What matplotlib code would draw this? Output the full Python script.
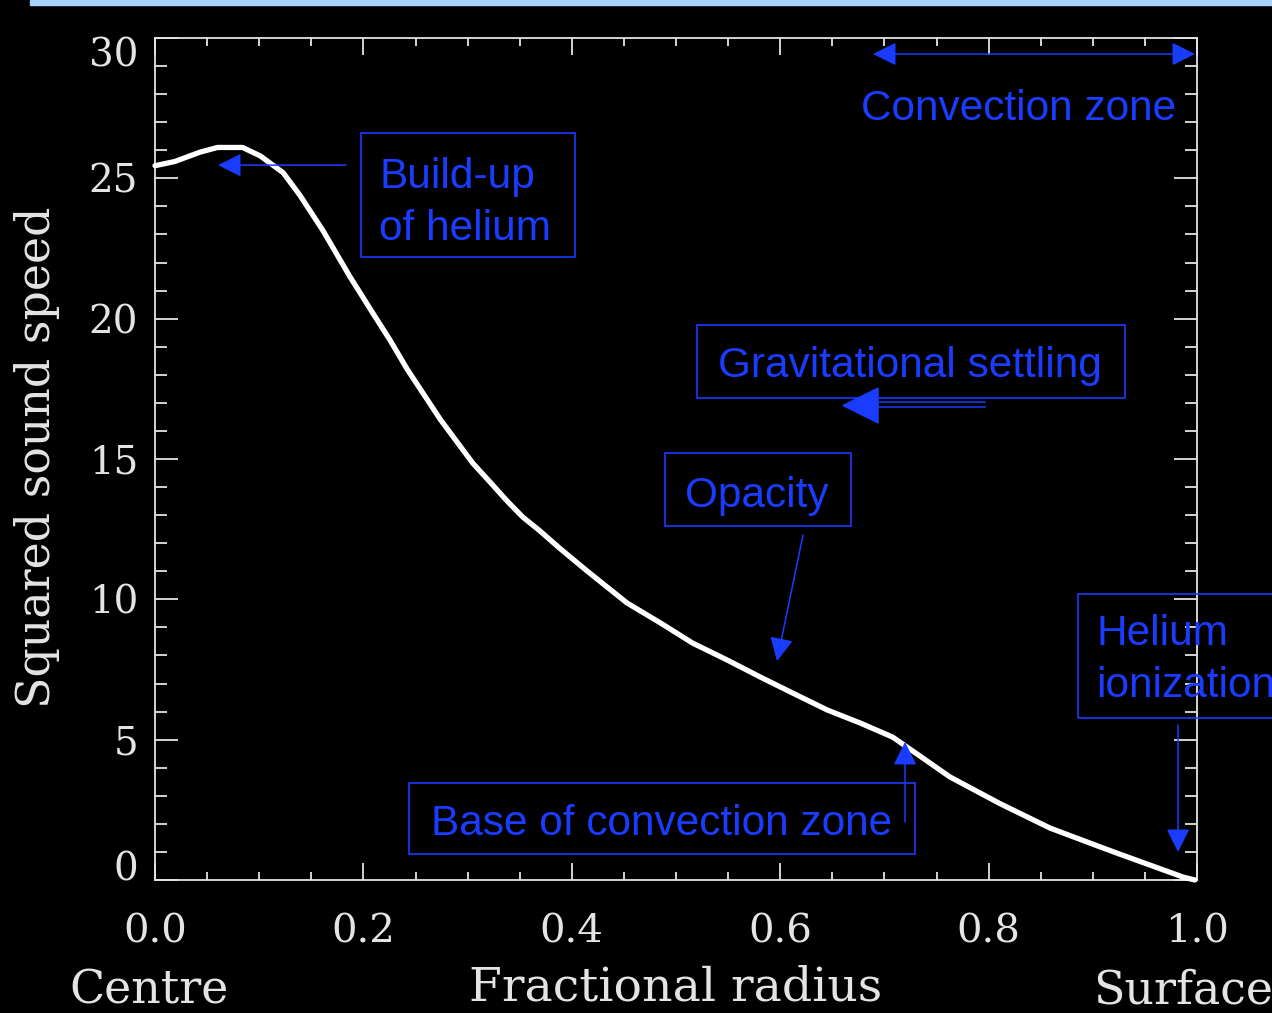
import matplotlib
matplotlib.use("Agg")
import numpy as np
import matplotlib.pyplot as plt
from matplotlib.patches import Rectangle, Polygon
from matplotlib.transforms import offset_copy

# ------------------- DATA -------------------
radius = [0.0, 0.019, 0.043, 0.060, 0.084, 0.101, 0.123, 0.139, 0.161, 0.187,
          0.209, 0.2255, 0.242, 0.274, 0.290, 0.305, 0.3215, 0.338, 0.353, 0.369,
          0.389, 0.415, 0.453, 0.485, 0.516, 0.549, 0.581, 0.612, 0.645, 0.677,
          0.708, 0.763, 0.811, 0.859, 0.907, 0.923, 0.955, 0.987, 0.998]
sound_speed_sq = [25.45, 25.6, 25.93, 26.1, 26.1, 25.8, 25.2, 24.4, 23.15, 21.5,
                  20.2, 19.24, 18.2, 16.4, 15.6, 14.85, 14.18, 13.5, 12.93, 12.45,
                  11.8, 11.0, 9.87, 9.16, 8.44, 7.84, 7.23, 6.66, 6.06, 5.59,
                  5.09, 3.67, 2.72, 1.85, 1.18, 0.96, 0.53, 0.1, 0.0]

x_ticks = [0.0, 0.2, 0.4, 0.6, 0.8, 1.0]
x_tick_labels = ["0.0", "0.2", "0.4", "0.6", "0.8", "1.0"]
y_ticks = [0, 5, 10, 15, 20, 25, 30]
y_tick_labels = ["0", "5", "10", "15", "20", "25", "30"]
# --------------------------------------------

BLUE = "#1a3cff"
FG = "#e4e4e4"
SANS = "Liberation Sans"
plt.rcParams["font.family"] = "DejaVu Serif"

fig = plt.figure(figsize=(12.72, 10.13), dpi=100, facecolor="black")
ax = fig.add_axes([155 / 1272, 133 / 1013, 1042 / 1272, 842 / 1013])
ax.set_facecolor("black")

# thin light-blue band across the top
fig.patches.append(Rectangle((30 / 1272, 1 - 5 / 1013), 1, 5 / 1013,
                             transform=fig.transFigure, color="#a9d3f9"))

ax.plot(radius, sound_speed_sq, color="white", lw=3.8,
        solid_capstyle="round", solid_joinstyle="round",
        clip_on=False, zorder=3)

ax.set_xlim(0, 1)
ax.set_ylim(0, 30)
for s in ax.spines.values():
    s.set_color(FG)
    s.set_linewidth(1.3)

ax.set_xticks(x_ticks, x_tick_labels)
ax.set_xticks(np.arange(0, 1.001, 0.05), minor=True)
ax.set_yticks(y_ticks, y_tick_labels)
ax.set_yticks(np.arange(0, 31, 1), minor=True)
ax.tick_params(which="both", direction="in", top=True, right=True,
               colors=FG, width=1.3)
ax.tick_params(axis="x", which="major", length=12.2, pad=24, labelsize=29)
ax.tick_params(axis="x", which="minor", length=6)
ax.tick_params(axis="y", which="major", length=16.5, pad=12, labelsize=28)
ax.tick_params(axis="y", which="minor", length=8.6)

# end labels of the y axis sit inside the frame, as in the original plot
ylabs = ax.get_yticklabels()
ylabs[0].set_va("baseline")
ylabs[-1].set_transform(offset_copy(ylabs[-1].get_transform(), fig=fig,
                                    y=-14, units="dots"))

# axis titles
fig.text(50 / 1272, 1 - 457.5 / 1013, "Squared sound speed", rotation=90,
         rotation_mode="anchor", ha="center", va="baseline", color=FG, size=33)
fig.text(676 / 1272, 1 - 1000 / 1013, "Fractional radius", ha="center",
         va="baseline", color=FG, size=34)
fig.text(149 / 1272, 1 - 1003 / 1013, "Centre", ha="center",
         va="baseline", color=FG, size=33)
fig.text(1093 / 1272, 1 - 1003 / 1013, "Surface", ha="left",
         va="baseline", color=FG, size=33)


def box(x0, y0, w, h):
    ax.add_patch(Rectangle((x0, y0), w, h, fill=False, ec=BLUE, lw=1.2,
                           clip_on=False, zorder=4))


def label(x, y, s, ha="center"):
    ax.text(x, y, s, ha=ha, va="baseline", color=BLUE, family=SANS,
            size=30.5, clip_on=False, zorder=5)


def arrow(tip, tail, style="-|>"):
    ax.annotate("", xy=tip, xytext=tail,
                arrowprops=dict(arrowstyle=f"{style},head_length=14.4,head_width=7.2",
                                mutation_scale=1, color=BLUE, lw=1.1,
                                shrinkA=0, shrinkB=0),
                annotation_clip=False, zorder=5)


# Build-up of helium
box(0.1977, 22.197, 0.2054, 4.418)
label(0.2150, 24.655, "Build-up", ha="left")
label(0.2150, 22.803, "of helium", ha="left")
arrow((0.0605, 25.47), (0.1833, 25.47))

# Convection zone
arrow((0.9981, 29.43), (0.6891, 29.43), style="<|-|>")
label(0.8292, 27.08, "Convection zone")

# Gravitational settling (double-shaft arrow)
box(0.5202, 17.173, 0.4107, 2.601)
label(0.7246, 17.92, "Gravitational settling")
for yy in (17.031, 16.853):
    ax.plot([0.6939, 0.7965], [yy, yy], color=BLUE, lw=1.1, clip_on=False, zorder=5)
ax.add_patch(Polygon([(0.6603, 16.906), (0.6939, 17.530), (0.6939, 16.283)],
                     closed=True, color=BLUE, clip_on=False, zorder=5))

# Opacity
box(0.4894, 12.613, 0.1785, 2.601)
label(0.578, 13.29, "Opacity")
arrow((0.5969, 7.803), (0.6219, 12.292))

# Base of convection zone
box(0.2438, 0.926, 0.4856, 2.53)
label(0.4866, 1.603, "Base of convection zone")
arrow((0.7198, 4.917), (0.7198, 2.066))

# Helium ionization (runs off the right edge)
box(0.8858, 5.772, 0.3, 4.418)
label(0.9031, 8.37, "Helium", ha="left")
label(0.9031, 6.52, "ionization", ha="left")
arrow((0.9818, 0.998), (0.9818, 5.523))

fig.savefig("out.png", dpi=100, facecolor="black")
